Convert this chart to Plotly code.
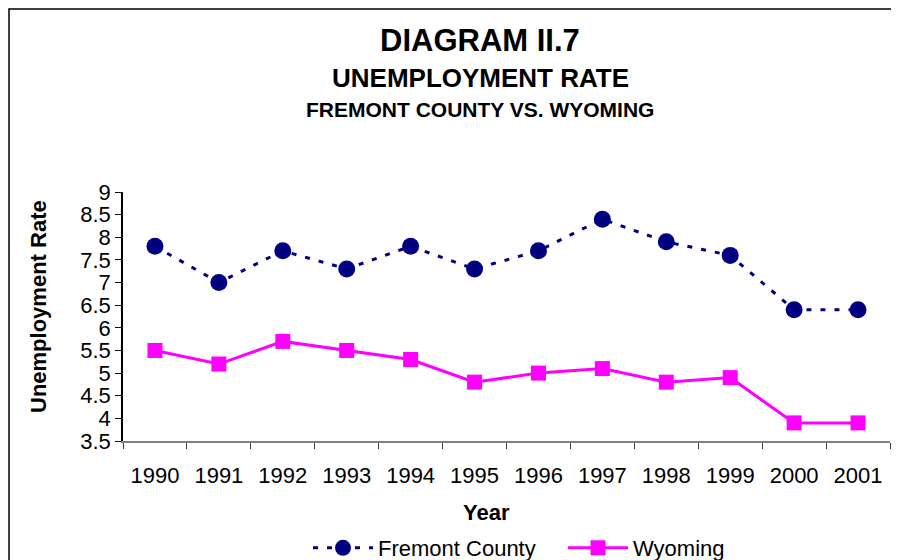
# %%
import plotly.graph_objects as go

# %%
years = ['1990', '1991', '1992', '1993', '1994', '1995', '1996', '1997', '1998', '1999', '2000', '2001']
fremont = [7.8, 7.0, 7.7, 7.3, 7.8, 7.3, 7.7, 8.4, 7.9, 7.6, 6.4, 6.4]
wyoming = [5.5, 5.2, 5.7, 5.5, 5.3, 4.8, 5.0, 5.1, 4.8, 4.9, 3.9, 3.9]
y_ticks = [3.5, 4, 4.5, 5, 5.5, 6, 6.5, 7, 7.5, 8, 8.5, 9]

# %%
# the page body has an 8px margin, so the figure is 8px smaller and all
# positions below are page pixels shifted by OFF
OFF = 8
W, H = 899 - OFF, 560 - OFF
L, T = 123 - OFF, 192 - OFF
R, B = W - (890 - OFF), H - (441 - OFF)
pw, ph = W - L - R, H - T - B


def px_x(x):
    return (x - OFF - L) / pw


def px_y(y):
    return (H - B - (y - OFF)) / ph


FONT = 'Liberation Sans, Arial, sans-serif'

fig = go.Figure()
fig.add_trace(go.Scatter(
    x=years, y=fremont, name='Fremont County', mode='lines+markers',
    line=dict(color='#000080', width=3, dash='5px,9px'),
    marker=dict(symbol='circle', size=17, color='#000080')))
fig.add_trace(go.Scatter(
    x=years, y=wyoming, name='Wyoming', mode='lines+markers',
    line=dict(color='#FF00FF', width=3),
    marker=dict(symbol='square', size=15, color='#FF00FF')))

# %%
titles = [('DIAGRAM II.7', 31, 40), ('UNEMPLOYMENT RATE', 26, 78), ('FREMONT COUNTY VS. WYOMING', 21, 109)]
for text, size, ypix in titles:
    fig.add_annotation(text=f'<b>{text}</b>', x=px_x(480), y=px_y(ypix), xref='paper', yref='paper',
                       showarrow=False, xanchor='center', yanchor='middle',
                       font=dict(size=size, color='black', family=FONT))

fig.add_annotation(text='<b>Year</b>', x=px_x(486), y=px_y(512), xref='paper', yref='paper',
                   showarrow=False, xanchor='center', yanchor='middle',
                   font=dict(size=22, color='black', family=FONT))
fig.add_annotation(text='<b>Unemployment Rate</b>', x=px_x(38), y=px_y(307), xref='paper', yref='paper',
                   showarrow=False, textangle=-90, xanchor='center', yanchor='middle',
                   font=dict(size=22, color='black', family=FONT))

# chart border
fig.add_shape(type='rect', xref='paper', yref='paper',
              x0=px_x(9), x1=px_x(892), y0=px_y(580), y1=px_y(9),
              line=dict(color='black', width=1.5), fillcolor='rgba(0,0,0,0)', layer='below')

fig.update_layout(
    width=W, height=H,
    margin=dict(l=L, r=R, t=T, b=B, autoexpand=False),
    plot_bgcolor='white', paper_bgcolor='white',
    font=dict(family=FONT, size=22, color='black'),
    showlegend=True,
    legend=dict(orientation='h', x=px_x(308), y=px_y(548), xanchor='left', yanchor='middle',
                font=dict(size=22), itemwidth=60, entrywidth=180, bgcolor='rgba(0,0,0,0)'),
    xaxis=dict(type='category', range=[-0.5, len(years) - 0.5],
               showline=True, linecolor='#808080', linewidth=2,
               ticks='outside', tickson='boundaries', ticklen=6, tickcolor='#404040',
               ticklabelstandoff=14,
               showgrid=False, zeroline=False, tickfont=dict(size=22)),
    yaxis=dict(range=[3.5, 9], tickvals=y_ticks, ticktext=[f'{v:g}' for v in y_ticks],
               showline=True, linecolor='black', linewidth=1.5,
               ticks='outside', ticklen=6, tickcolor='black',
               showgrid=False, zeroline=False, tickfont=dict(size=22)),
)

# %%
fig.write_html('out.html')
